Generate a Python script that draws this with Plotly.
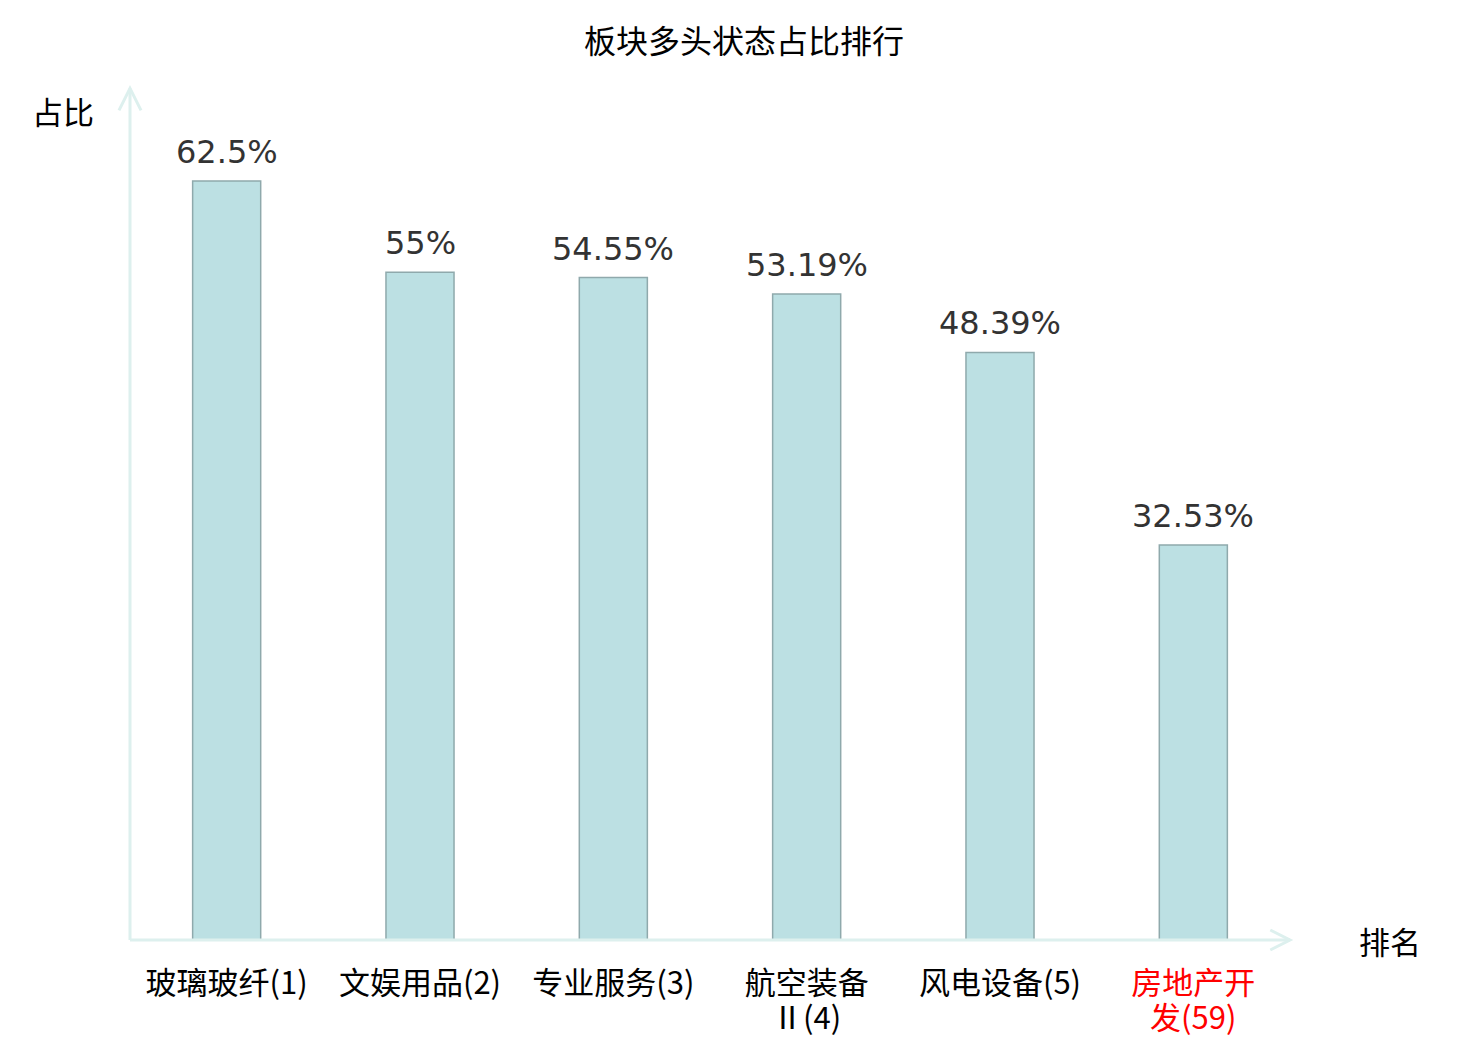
import plotly.graph_objects as go

# 板块多头状态占比
sectors = ["玻璃玻纤(1)", "文娱用品(2)", "专业服务(3)", "航空装备<br>Ⅱ(4)", "风电设备(5)", "房地产开<br>发(59)"]
ratios = [62.5, 55, 54.55, 53.19, 48.39, 32.53]
ratio_labels = ["62.5%", "55%", "54.55%", "53.19%", "48.39%", "32.53%"]
highlight = [False, False, False, False, False, True]

AXIS_COLOR = "#DDF0EE"
CJK = "Noto Sans CJK SC"

# first line of each name goes in the tick label, a wrapped second line
# is placed just below it (tighter line spacing than plotly's <br>)
tick_text = []
second_lines = []
for name, hl in zip(sectors, highlight):
    parts = name.split("<br>")
    color = "#FF0000" if hl else "#000000"
    tick_text.append(f"<span style='color:{color}'>{parts[0]}</span>")
    second_lines.append((parts[1] if len(parts) > 1 else "", color))

fig = go.Figure()
fig.add_trace(go.Bar(
    x=list(range(len(sectors))),
    y=ratios,
    width=0.352,
    marker=dict(color="#BCE0E3", line=dict(color="#8FA9AC", width=1.5)),
    hoverinfo="skip",
))

# value labels above the bars
annotations = []
for i, (v, lab) in enumerate(zip(ratios, ratio_labels)):
    annotations.append(dict(x=i, y=v, text=lab, xref="x", yref="y",
                            xanchor="center", yanchor="bottom", yshift=8,
                            showarrow=False,
                            font=dict(family="DejaVu Sans", size=32, color="#333333")))

for i, (txt, color) in enumerate(second_lines):
    if txt:
        annotations.append(dict(x=i, y=0, text=txt, xref="x", yref="paper",
                                xanchor="center", yanchor="middle", yshift=-75,
                                showarrow=False,
                                font=dict(family=CJK, size=31, color=color)))

annotations += [
    dict(text="占比", xref="paper", yref="paper", x=-0.058, y=0.976,
         xanchor="center", yanchor="middle",
         showarrow=False, font=dict(family=CJK, size=31, color="#000000")),
    dict(text="排名", xref="paper", yref="paper", x=1.086, y=0,
         xanchor="center", yanchor="middle",
         showarrow=False, font=dict(family=CJK, size=31, color="#000000")),
]

# axis lines with open arrow heads (paper coords)
shapes = [
    dict(type="line", xref="paper", yref="paper", x0=0, y0=0, x1=1.0, y1=0,
         line=dict(color=AXIS_COLOR, width=3)),
    dict(type="line", xref="paper", yref="paper", x0=0, y0=0, x1=0, y1=1.002,
         line=dict(color=AXIS_COLOR, width=3)),
    dict(type="path", xref="paper", yref="paper",
         path="M 0.983,0.0118 L 1.0,0 L 0.983,-0.0118",
         line=dict(color=AXIS_COLOR, width=3)),
    dict(type="path", xref="paper", yref="paper",
         path="M -0.0095,0.976 L 0,1.002 L 0.0095,0.976",
         line=dict(color=AXIS_COLOR, width=3)),
]

# page body has an 8px margin, so the figure is laid out 8px smaller
W, H = 1472, 1032

fig.update_layout(
    width=W, height=H,
    margin=dict(l=122, r=190, t=82, b=100),
    paper_bgcolor="white", plot_bgcolor="white",
    showlegend=False,
    title=dict(text="板块多头状态占比排行", x=0.5, xanchor="center", y=1 - 34 / H,
               yanchor="middle", font=dict(family=CJK, size=32, color="#000000")),
    shapes=shapes,
    annotations=annotations,
    xaxis=dict(range=[-0.5, 5.5], tickvals=list(range(len(sectors))), ticktext=tick_text,
               showline=False, showgrid=False, zeroline=False, ticks="",
               ticklabelstandoff=22, automargin=False,
               tickfont=dict(family=CJK, size=31, color="#000000")),
    yaxis=dict(range=[0, 70], showticklabels=False, showline=False, showgrid=False,
               zeroline=False, ticks="", automargin=False),
)

fig.write_html("out.html")
